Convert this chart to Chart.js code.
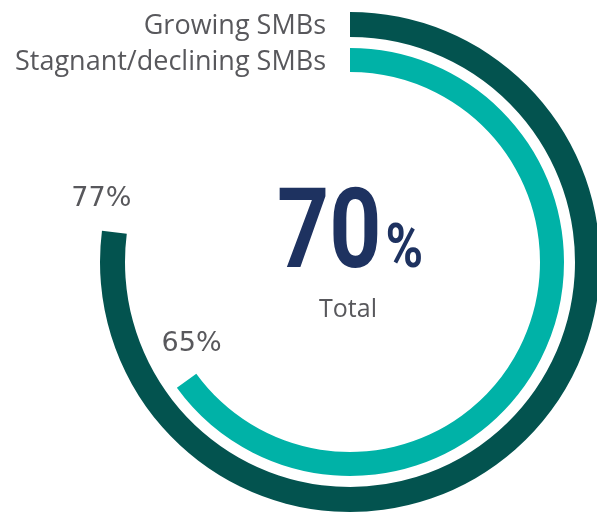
<!DOCTYPE html>
<html>
<head>
<meta charset="utf-8">
<script src="https://cdn.jsdelivr.net/npm/chart.js@4.4.0/dist/chart.umd.min.js"></script>
<style>
  html, body { margin: 0; padding: 0; background: #fff; overflow: hidden; }
  #wrap { width: 600px; height: 513px; }
</style>
</head>
<body>
<div id="wrap"><canvas id="ringChart" width="600" height="513"></canvas></div>
<script>
// data
const groups = ['Growing SMBs', 'Stagnant/declining SMBs'];
const shares = [77, 65];
const totalShare = 70;
const totalLabel = 'Total';

// style
const ringColors = ['#03534f', '#00b2a7'];
const textGrey = '#58585c';
const navy = '#1e3260';
const labelDx = [-13, 5];
const labelDy = [-26, -30];

Chart.defaults.plugins.legend.display = false;
Chart.defaults.plugins.tooltip.enabled = false;

// ring datasets, with an empty one in between to make the white gap
const ringData = [
  { data: [shares[0], 100 - shares[0]], backgroundColor: [ringColors[0], 'rgba(0,0,0,0)'], weight: 25, borderWidth: 0 },
  { data: [100], backgroundColor: ['rgba(0,0,0,0)'], weight: 11, borderWidth: 0 },
  { data: [shares[1], 100 - shares[1]], backgroundColor: [ringColors[1], 'rgba(0,0,0,0)'], weight: 24, borderWidth: 0 }
];
const ringIdx = [0, 2];

const ringText = {
  id: 'ringText',
  afterDatasetsDraw(chart) {
    const ctx = chart.ctx;
    ctx.save();
    ctx.textBaseline = 'alphabetic';
    let cx = 0, cy = 0;
    ringIdx.forEach((dsi, i) => {
      const arc = chart.getDatasetMeta(dsi).data[0];
      const p = arc.getProps(['x', 'y', 'startAngle', 'endAngle', 'innerRadius', 'outerRadius'], true);
      cx = p.x; cy = p.y;
      const mid = (p.innerRadius + p.outerRadius) / 2;

      // series name next to ring start
      const sx = p.x + Math.cos(p.startAngle) * mid;
      const sy = p.y + Math.sin(p.startAngle) * mid;
      ctx.fillStyle = textGrey;
      ctx.font = '27px "Open Sans"';
      ctx.textAlign = 'right';
      ctx.fillText(groups[i], sx - 24, sy + 9 + i);

      // value near ring end
      const ex = p.x + Math.cos(p.endAngle) * mid;
      const ey = p.y + Math.sin(p.endAngle) * mid;
      ctx.font = '27px "DejaVu Sans"';
      ctx.textAlign = 'center';
      ctx.fillText(shares[i] + '%', ex + labelDx[i], ey + labelDy[i]);
    });

    // center total
    ctx.fillStyle = navy;
    ctx.textAlign = 'left';
    ctx.font = 'bold 111px Roboto';
    const big = String(totalShare);
    const small = '%';
    const sq = 0.82;
    const wBig = ctx.measureText(big).width * sq;
    ctx.font = 'bold 62px Roboto';
    const wSmall = ctx.measureText(small).width * sq;
    const startX = cx - (wBig + wSmall + 4) / 2;
    ctx.save();
    ctx.translate(startX, cy + 5);
    ctx.scale(sq, 1);
    ctx.font = 'bold 111px Roboto';
    ctx.fillText(big, 0, 0);
    ctx.font = 'bold 62px Roboto';
    ctx.fillText(small, (wBig + 4) / sq, 0);
    ctx.restore();

    ctx.fillStyle = textGrey;
    ctx.font = '25px "Open Sans"';
    ctx.textAlign = 'center';
    ctx.fillText(totalLabel, cx - 2, cy + 55);
    ctx.restore();
  }
};

new Chart(document.getElementById('ringChart').getContext('2d'), {
  type: 'doughnut',
  data: { datasets: ringData },
  options: {
    responsive: false,
    animation: false,
    cutout: '76%',
    layout: { padding: { left: 100, right: 0, top: 12, bottom: 1 } },
    events: []
  },
  plugins: [ringText]
});
</script>
</body>
</html>
